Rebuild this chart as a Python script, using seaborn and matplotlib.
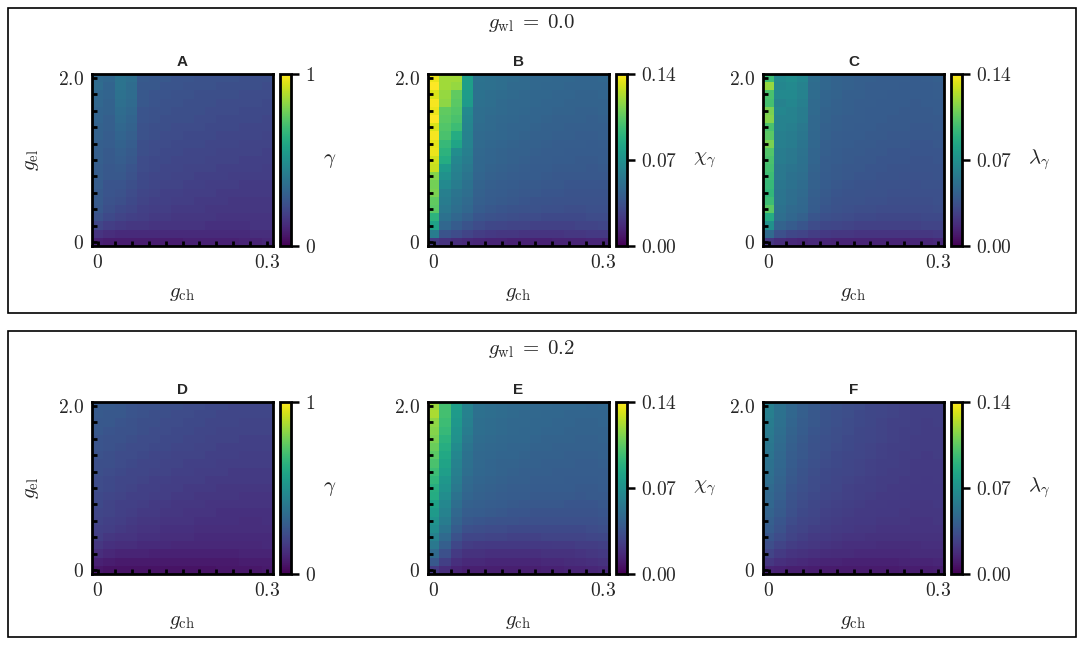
import numpy as np
import pandas as pd
import seaborn as sns
import matplotlib.pyplot as plt
from matplotlib.patches import Rectangle

# grid of the sweep
g_ch = [0.00, 0.02, 0.04, 0.06, 0.08, 0.10, 0.12, 0.14, 0.16, 0.18, 0.20, 0.22, 0.24, 0.26, 0.28, 0.30]
g_el = [2.0, 1.9, 1.8, 1.7, 1.6, 1.5, 1.4, 1.3, 1.2, 1.1, 1.0, 0.9, 0.8, 0.7, 0.6, 0.5, 0.4, 0.3, 0.2, 0.1, 0.0]

# gamma (x100), g_wl = 0.0
gamma_wl00 = [
    [34, 33, 38, 36, 28, 27, 27, 26, 26, 25, 25, 25, 25, 24, 24, 24],
    [35, 32, 38, 35, 27, 27, 26, 26, 25, 25, 25, 24, 24, 24, 24, 23],
    [33, 32, 37, 35, 27, 26, 26, 25, 25, 24, 24, 24, 24, 23, 23, 23],
    [33, 31, 36, 34, 27, 26, 25, 25, 24, 24, 24, 23, 23, 23, 23, 22],
    [32, 31, 35, 33, 26, 25, 25, 24, 24, 24, 23, 23, 23, 22, 22, 22],
    [32, 30, 34, 32, 26, 25, 24, 24, 24, 23, 23, 22, 22, 22, 22, 21],
    [31, 30, 33, 31, 25, 24, 24, 23, 23, 23, 22, 22, 22, 21, 21, 21],
    [31, 29, 32, 30, 25, 24, 23, 23, 22, 22, 22, 21, 21, 21, 21, 20],
    [30, 29, 31, 29, 24, 23, 23, 22, 22, 22, 21, 21, 21, 20, 20, 20],
    [30, 28, 30, 28, 24, 23, 22, 22, 21, 21, 21, 20, 20, 20, 20, 19],
    [30, 28, 29, 27, 23, 22, 22, 21, 21, 21, 20, 20, 20, 19, 19, 19],
    [29, 27, 28, 26, 23, 22, 21, 21, 20, 20, 20, 19, 19, 19, 19, 18],
    [29, 27, 27, 25, 22, 21, 21, 20, 20, 19, 19, 19, 18, 18, 18, 18],
    [29, 26, 26, 24, 22, 21, 20, 20, 19, 19, 18, 18, 18, 17, 17, 17],
    [28, 26, 25, 23, 21, 20, 19, 19, 18, 18, 18, 17, 17, 17, 17, 17],
    [28, 25, 24, 22, 20, 19, 19, 18, 18, 17, 17, 17, 16, 16, 16, 16],
    [27, 24, 22, 21, 19, 18, 18, 17, 17, 17, 16, 16, 16, 16, 16, 16],
    [25, 22, 20, 19, 18, 17, 17, 16, 16, 16, 16, 15, 15, 15, 15, 15],
    [21, 18, 17, 16, 16, 15, 15, 15, 15, 15, 14, 14, 14, 14, 15, 15],
    [15, 13, 12, 12, 12, 12, 12, 12, 12, 12, 12, 12, 12, 12, 13, 13],
    [9, 8, 8, 8, 8, 8, 8, 8, 9, 9, 9, 9, 9, 10, 10, 11],
]

# chi_gamma (x1000), g_wl = 0.0
chi_wl00 = [
    [136, 120, 120, 78, 53, 51, 50, 49, 48, 47, 47, 46, 46, 45, 45, 46],
    [140, 120, 118, 78, 52, 51, 50, 48, 48, 47, 46, 46, 45, 45, 45, 45],
    [132, 118, 106, 77, 52, 50, 49, 48, 47, 46, 46, 45, 45, 44, 44, 45],
    [138, 116, 104, 76, 51, 50, 48, 47, 47, 46, 45, 45, 44, 44, 44, 44],
    [136, 106, 102, 66, 50, 49, 48, 47, 46, 45, 45, 44, 44, 43, 43, 44],
    [140, 104, 100, 64, 50, 48, 47, 46, 45, 45, 44, 43, 43, 43, 42, 43],
    [132, 102, 96, 63, 49, 48, 46, 45, 45, 44, 43, 43, 42, 42, 42, 42],
    [138, 100, 86, 62, 48, 47, 46, 45, 44, 43, 43, 42, 42, 41, 41, 42],
    [134, 94, 82, 62, 48, 46, 45, 44, 43, 43, 42, 41, 41, 41, 40, 41],
    [136, 90, 68, 60, 47, 45, 44, 43, 43, 42, 41, 41, 40, 40, 40, 40],
    [130, 86, 64, 58, 46, 45, 44, 43, 42, 41, 41, 40, 40, 39, 39, 40],
    [128, 76, 62, 56, 46, 44, 43, 42, 41, 40, 40, 39, 39, 39, 38, 39],
    [114, 70, 60, 54, 45, 43, 42, 41, 40, 40, 39, 38, 38, 38, 38, 38],
    [110, 66, 58, 52, 44, 42, 41, 40, 39, 39, 38, 38, 37, 37, 37, 37],
    [112, 60, 54, 50, 43, 41, 40, 39, 38, 38, 37, 37, 36, 36, 36, 36],
    [106, 58, 52, 48, 42, 40, 39, 38, 37, 36, 36, 35, 35, 35, 35, 35],
    [104, 56, 50, 46, 40, 38, 37, 36, 35, 35, 34, 34, 33, 33, 34, 34],
    [90, 52, 46, 42, 37, 35, 34, 33, 32, 32, 31, 31, 31, 31, 32, 32],
    [80, 46, 40, 36, 32, 30, 29, 28, 28, 27, 27, 27, 27, 28, 28, 29],
    [58, 36, 32, 28, 25, 23, 22, 22, 21, 21, 21, 21, 22, 22, 23, 23],
    [24, 20, 18, 16, 15, 14, 14, 13, 13, 13, 13, 14, 14, 14, 15, 15],
]

# lambda_gamma (x1000), g_wl = 0.0
lam_wl00 = [
    [96, 66, 68, 64, 50, 46, 44, 43, 42, 42, 41, 41, 41, 40, 41, 42],
    [118, 64, 66, 62, 49, 46, 44, 43, 42, 41, 41, 41, 40, 40, 40, 41],
    [100, 66, 66, 62, 49, 45, 44, 42, 42, 41, 41, 40, 40, 40, 40, 41],
    [98, 62, 64, 60, 48, 45, 43, 42, 41, 41, 40, 40, 40, 39, 40, 40],
    [112, 64, 62, 58, 48, 44, 43, 42, 41, 40, 40, 40, 39, 39, 39, 40],
    [114, 62, 62, 58, 47, 44, 42, 41, 41, 40, 40, 39, 39, 39, 39, 39],
    [100, 62, 60, 56, 47, 43, 42, 41, 40, 40, 39, 39, 39, 38, 38, 39],
    [104, 60, 58, 55, 46, 43, 41, 40, 40, 39, 39, 38, 38, 38, 38, 38],
    [112, 60, 58, 54, 46, 42, 41, 40, 39, 39, 38, 38, 38, 37, 37, 38],
    [102, 58, 56, 53, 45, 42, 40, 39, 39, 38, 38, 37, 37, 37, 37, 37],
    [100, 58, 56, 52, 45, 41, 40, 39, 38, 38, 37, 37, 37, 36, 36, 37],
    [98, 56, 54, 51, 44, 41, 39, 38, 38, 37, 37, 36, 36, 36, 36, 36],
    [96, 56, 52, 50, 43, 40, 39, 38, 37, 37, 36, 36, 35, 35, 35, 36],
    [94, 55, 52, 49, 43, 40, 38, 37, 36, 36, 35, 35, 35, 34, 35, 35],
    [92, 54, 50, 48, 42, 39, 37, 36, 36, 35, 35, 34, 34, 34, 34, 34],
    [96, 54, 50, 47, 41, 38, 36, 35, 35, 34, 34, 33, 33, 33, 33, 34],
    [104, 52, 48, 46, 40, 37, 35, 34, 33, 33, 32, 32, 32, 32, 32, 33],
    [86, 50, 46, 43, 37, 34, 33, 32, 31, 31, 30, 30, 30, 30, 31, 31],
    [70, 44, 40, 37, 32, 30, 29, 28, 27, 27, 27, 27, 27, 27, 28, 28],
    [48, 34, 30, 28, 25, 23, 22, 22, 21, 21, 21, 21, 21, 22, 22, 23],
    [22, 18, 16, 15, 16, 15, 14, 14, 14, 14, 14, 14, 14, 15, 15, 16],
]

# gamma (x100), g_wl = 0.2
gamma_wl02 = [
    [28, 28, 27, 26, 25, 25, 24, 24, 23, 23, 22, 22, 21, 21, 21, 21],
    [28, 27, 27, 26, 25, 24, 24, 23, 23, 22, 22, 21, 21, 21, 21, 21],
    [27, 27, 26, 25, 24, 24, 23, 23, 22, 22, 21, 21, 21, 20, 20, 20],
    [27, 26, 25, 25, 24, 23, 23, 22, 22, 21, 21, 20, 20, 20, 20, 20],
    [26, 25, 25, 24, 23, 23, 22, 22, 21, 21, 20, 20, 20, 19, 19, 19],
    [26, 25, 24, 23, 23, 22, 22, 21, 21, 20, 20, 19, 19, 19, 19, 19],
    [25, 24, 23, 23, 22, 21, 21, 20, 20, 20, 19, 19, 19, 18, 18, 18],
    [24, 24, 23, 22, 21, 21, 20, 20, 19, 19, 19, 18, 18, 18, 18, 18],
    [24, 23, 22, 21, 21, 20, 20, 19, 19, 18, 18, 18, 17, 17, 17, 17],
    [23, 22, 21, 21, 20, 19, 19, 18, 18, 18, 17, 17, 17, 17, 17, 17],
    [23, 22, 21, 20, 19, 19, 18, 18, 17, 17, 17, 16, 16, 16, 16, 16],
    [22, 21, 20, 19, 19, 18, 18, 17, 17, 16, 16, 16, 16, 15, 15, 15],
    [22, 20, 19, 19, 18, 17, 17, 16, 16, 16, 15, 15, 15, 15, 15, 15],
    [21, 20, 19, 18, 17, 17, 16, 16, 15, 15, 15, 14, 14, 14, 14, 14],
    [20, 19, 18, 17, 16, 16, 15, 15, 15, 14, 14, 14, 14, 13, 13, 14],
    [19, 18, 17, 16, 15, 15, 14, 14, 14, 13, 13, 13, 13, 13, 13, 13],
    [18, 16, 15, 15, 14, 14, 13, 13, 13, 12, 12, 12, 12, 12, 12, 12],
    [16, 14, 13, 13, 12, 12, 12, 11, 11, 11, 11, 11, 11, 11, 11, 12],
    [13, 11, 10, 10, 10, 9, 9, 9, 9, 9, 9, 9, 9, 10, 10, 10],
    [9, 8, 7, 7, 7, 7, 7, 7, 7, 7, 7, 7, 7, 8, 8, 8],
    [6, 5, 5, 5, 5, 5, 5, 5, 5, 5, 5, 6, 6, 6, 6, 7],
]

# chi_gamma (x1000), g_wl = 0.2
chi_wl02 = [
    [119, 98, 78, 62, 52, 50, 49, 48, 48, 47, 47, 46, 46, 46, 45, 46],
    [122, 98, 76, 61, 51, 50, 49, 48, 47, 47, 46, 46, 45, 45, 45, 45],
    [116, 96, 74, 60, 50, 49, 48, 47, 47, 46, 46, 45, 45, 44, 44, 45],
    [114, 94, 72, 58, 50, 49, 48, 47, 46, 46, 45, 45, 44, 44, 44, 44],
    [112, 90, 70, 56, 49, 48, 47, 46, 46, 45, 44, 44, 44, 43, 43, 44],
    [108, 87, 67, 54, 48, 47, 46, 45, 45, 44, 44, 43, 43, 43, 43, 43],
    [104, 84, 64, 52, 47, 46, 45, 45, 44, 43, 43, 43, 42, 42, 42, 43],
    [100, 81, 62, 51, 47, 45, 44, 44, 43, 43, 42, 42, 42, 41, 41, 42],
    [96, 78, 60, 50, 46, 45, 44, 43, 42, 42, 42, 41, 41, 41, 41, 41],
    [92, 74, 58, 48, 45, 44, 43, 42, 42, 41, 41, 41, 40, 40, 40, 41],
    [88, 72, 56, 47, 44, 43, 42, 41, 41, 40, 40, 40, 40, 39, 39, 40],
    [86, 68, 53, 45, 43, 42, 41, 40, 40, 39, 39, 39, 39, 38, 39, 39],
    [80, 65, 50, 43, 42, 41, 40, 39, 38, 38, 38, 38, 37, 37, 37, 38],
    [76, 62, 47, 41, 40, 39, 38, 37, 37, 36, 36, 36, 36, 36, 36, 37],
    [72, 58, 44, 38, 37, 36, 35, 35, 34, 34, 34, 34, 34, 34, 34, 35],
    [68, 54, 40, 34, 33, 32, 32, 31, 31, 31, 31, 31, 31, 31, 32, 33],
    [62, 48, 35, 29, 29, 28, 28, 27, 27, 27, 28, 28, 28, 28, 29, 30],
    [56, 42, 30, 25, 24, 23, 23, 23, 23, 23, 23, 24, 24, 25, 25, 26],
    [48, 34, 24, 20, 20, 19, 19, 19, 19, 19, 20, 20, 20, 21, 22, 23],
    [38, 26, 19, 16, 16, 15, 15, 15, 15, 15, 16, 16, 17, 18, 19, 20],
    [24, 18, 14, 12, 12, 12, 12, 12, 12, 12, 13, 13, 14, 14, 15, 16],
]

# lambda_gamma (x1000), g_wl = 0.2
lam_wl02 = [
    [60, 52, 46, 42, 39, 37, 35, 33, 32, 30, 29, 28, 27, 26, 26, 26],
    [60, 52, 46, 42, 38, 36, 34, 33, 31, 30, 29, 28, 27, 26, 26, 26],
    [58, 51, 45, 41, 38, 36, 34, 32, 31, 30, 28, 27, 27, 26, 25, 26],
    [57, 50, 44, 40, 37, 35, 33, 32, 30, 29, 28, 27, 26, 26, 25, 25],
    [56, 49, 43, 39, 36, 34, 33, 31, 30, 29, 28, 27, 26, 25, 25, 25],
    [55, 48, 42, 38, 35, 34, 32, 31, 29, 28, 27, 26, 26, 25, 25, 25],
    [54, 47, 41, 38, 35, 33, 31, 30, 29, 28, 27, 26, 25, 25, 24, 25],
    [52, 46, 40, 37, 34, 32, 31, 29, 28, 27, 26, 26, 25, 24, 24, 24],
    [51, 45, 39, 36, 33, 31, 30, 29, 28, 27, 26, 25, 25, 24, 24, 24],
    [50, 44, 38, 35, 32, 31, 29, 28, 27, 26, 25, 25, 24, 24, 23, 24],
    [48, 43, 37, 34, 32, 30, 29, 27, 26, 26, 25, 24, 24, 23, 23, 23],
    [47, 42, 36, 33, 31, 29, 28, 27, 26, 25, 24, 24, 23, 23, 23, 23],
    [46, 40, 35, 32, 30, 28, 27, 26, 25, 24, 24, 23, 23, 22, 22, 23],
    [44, 39, 34, 31, 29, 27, 26, 25, 24, 24, 23, 23, 22, 22, 22, 22],
    [42, 37, 32, 29, 28, 26, 25, 24, 23, 23, 22, 22, 22, 21, 21, 22],
    [40, 35, 30, 28, 26, 25, 24, 23, 22, 22, 21, 21, 21, 21, 21, 21],
    [37, 32, 28, 26, 24, 23, 22, 21, 21, 20, 20, 20, 20, 20, 20, 20],
    [33, 28, 25, 23, 22, 21, 20, 19, 19, 19, 18, 18, 18, 18, 19, 19],
    [28, 24, 21, 20, 19, 18, 17, 17, 16, 16, 16, 16, 16, 17, 17, 17],
    [22, 19, 17, 16, 15, 14, 14, 13, 13, 13, 13, 13, 14, 14, 14, 15],
    [14, 13, 12, 12, 11, 10, 10, 10, 10, 10, 10, 10, 11, 11, 11, 12],
]

sns.set_style("white")
plt.rcParams['mathtext.fontset'] = 'cm'
plt.rcParams['font.family'] = ['DejaVu Serif']

fig = plt.figure(figsize=(10.84, 6.48), dpi=100)

W, H = 1084.0, 648.0
panels = [
    # letter, data, scale, vmax, cbar ticks, cbar tick labels, cbar label, axes left px, axes top px
    ('A', gamma_wl00, 100.0, 1.0, [0, 1], [r'$0$', r'$1$'], r'$\gamma$', 92, 74),
    ('B', chi_wl00, 1000.0, 0.14, [0, 0.07, 0.14], [r'$0.00$', r'$0.07$', r'$0.14$'], r'$\chi_\gamma$', 428, 74),
    ('C', lam_wl00, 1000.0, 0.14, [0, 0.07, 0.14], [r'$0.00$', r'$0.07$', r'$0.14$'], r'$\lambda_\gamma$', 763, 74),
    ('D', gamma_wl02, 100.0, 1.0, [0, 1], [r'$0$', r'$1$'], r'$\gamma$', 92, 402),
    ('E', chi_wl02, 1000.0, 0.14, [0, 0.07, 0.14], [r'$0.00$', r'$0.07$', r'$0.14$'], r'$\chi_\gamma$', 428, 402),
    ('F', lam_wl02, 1000.0, 0.14, [0, 0.07, 0.14], [r'$0.00$', r'$0.07$', r'$0.14$'], r'$\lambda_\gamma$', 763, 402),
]

aw, ah = 181, 172
dx = g_ch[1] - g_ch[0]
dy = g_el[0] - g_el[1]

def col_pos(v):
    return v / dx + 0.5

def row_pos(v):
    return (g_el[0] - v) / dy + 0.5

for letter, data, scale, vmax, cticks, clabs, clabel, lpx, tpx in panels:
    ax = fig.add_axes([lpx / W, 1 - (tpx + ah) / H, aw / W, ah / H])
    cax = fig.add_axes([(lpx + aw + 7) / W, 1 - (tpx + ah) / H, 11 / W, ah / H])
    df = pd.DataFrame(np.array(data) / scale, index=g_el, columns=g_ch)
    sns.heatmap(df, ax=ax, cbar_ax=cax, cmap='viridis', vmin=0, vmax=vmax,
                xticklabels=False, yticklabels=False)
    ax.set_axisbelow(False)

    for s in ax.spines.values():
        s.set_visible(True)
        s.set_linewidth(2)
        s.set_color('black')

    ax.set_xticks([col_pos(0.0), col_pos(0.3)])
    ax.set_xticklabels([r'$0$', r'$0.3$'])
    ax.set_xticks([col_pos(v) for v in [0.0, 0.03, 0.06, 0.09, 0.12, 0.15, 0.18, 0.21, 0.24, 0.27, 0.3]], minor=True)
    ax.set_yticks([row_pos(2.0), row_pos(0.0)])
    ax.set_yticklabels([r'$2.0$', r'$0$'])
    ax.set_yticks([row_pos(v) for v in [2.0, 1.8, 1.6, 1.4, 1.2, 1.0, 0.8, 0.6, 0.4, 0.2, 0.0]], minor=True)
    ax.tick_params(which='both', direction='in', length=3.5, width=2, color='black',
                   bottom=True, left=True, top=False, right=False)
    ax.tick_params(which='major', labelsize=14, pad=6)

    ax.set_xlabel(r'$g_{\rm ch}$', fontsize=15)
    ax.xaxis.set_label_coords(0.5, -0.22)
    if letter in ('A', 'D'):
        ax.set_ylabel(r'$g_{\rm el}$', fontsize=15)
        ax.yaxis.set_label_coords(-0.28, 0.5)
    ax.set_title(letter, fontsize=11, fontweight='bold', family=['Liberation Sans', 'DejaVu Sans'], pad=6)

    cbar = ax.collections[0].colorbar
    cbar.outline.set_visible(True)
    cbar.outline.set_linewidth(2)
    cbar.outline.set_edgecolor('black')
    cbar.set_ticks(cticks)
    cbar.set_ticklabels(clabs)
    cax.tick_params(direction='out', length=6, width=1.8, color='black', labelsize=14, pad=4)
    cax.set_ylabel(clabel, fontsize=15, rotation=0, va='center', ha='center')
    cax.yaxis.set_label_coords(4.5 if letter in ('A', 'D') else 8.0, 0.5)

# framed rows with their headers
fig.add_artist(Rectangle((8 / W, 1 - 313 / H), 1068 / W, 305 / H, transform=fig.transFigure,
                         fill=False, lw=1.2, ec='black'))
fig.add_artist(Rectangle((8 / W, 1 - 637 / H), 1068 / W, 306 / H, transform=fig.transFigure,
                         fill=False, lw=1.2, ec='black'))
fig.text(532 / W, 1 - 23 / H, r'$g_{\rm wl}\;=\;0.0$', ha='center', va='center', fontsize=15)
fig.text(532 / W, 1 - 349 / H, r'$g_{\rm wl}\;=\;0.2$', ha='center', va='center', fontsize=15)

plt.savefig('out.png', dpi=100)
